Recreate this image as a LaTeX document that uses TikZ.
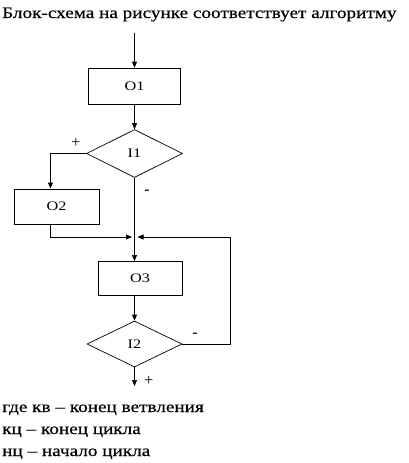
\documentclass[tikz,border=0pt]{standalone}
\usepackage{fontspec}
\setmainfont{Liberation Serif}
\newfontfamily\widefont[FakeStretch=1.2,FakeBold=0.4]{Liberation Serif}
\newfontfamily\lblfont[FakeStretch=1.25]{Liberation Serif}
\usetikzlibrary{shapes.geometric,arrows.meta,calc}
\begin{document}
\begin{tikzpicture}[x=1pt,y=-1pt,
  line/.style={draw=black,line width=0.7pt},
  arr/.style={line,-{Triangle[length=6pt,width=5pt]}},
  blk/.style={draw=black,line width=0.7pt,rectangle,inner sep=0pt,font=\lblfont\fontsize{13}{14}\selectfont},
  dec/.style={draw=black,line width=0.7pt,diamond,inner sep=0pt,font=\lblfont\fontsize{13}{14}\selectfont},
  sign/.style={font=\fontsize{16}{16}\selectfont,inner sep=0pt},
  txt/.style={font=\widefont\fontsize{16}{18}\selectfont,inner sep=0pt,anchor=base west}]
\useasboundingbox (0,0) rectangle (408,463);
\fill[white] (0,0) rectangle (408,463);

\node[txt] (title) at (2,18) {Блок-схема на рисунке соответствует алгоритму};

\node[blk,minimum width=92pt,minimum height=36pt] (O1) at (134.5,86) {O1};
\node[dec,minimum width=96pt,minimum height=48pt] (I1) at (134.5,153.5) {I1};
\node[blk,minimum width=85pt,minimum height=35pt] (O2) at (56.5,206.5) {O2};
\node[blk,minimum width=84pt,minimum height=34pt] (O3) at (140,278) {O3};
\node[dec,minimum width=95pt,minimum height=46pt] (I2) at (134.5,344) {I2};

\coordinate (start) at (134.5,33);
\coordinate (o2top) at (50.5,188.5);
\coordinate (o2bot) at (50.5,224);
\coordinate (jn) at (134.5,237);
\coordinate (jl) at (132,237);
\coordinate (jr) at (137.5,237);
\coordinate (o3top) at (134.5,261);
\coordinate (o3bot) at (134.5,295);
\coordinate (rloop) at (230,237);
\coordinate (endp) at (134.5,386);

\draw[arr] (start) -- (O1.north);
\draw[arr] (O1.south) -- (I1.north);
\draw[arr] (I1.west) -| (o2top);
\draw[line] (I1.south) -- (jn);
\draw[arr] (jn) -- (o3top);
\draw[arr] (o2bot) |- (jl);
\draw[arr] (I2.east) -| (rloop) -- (jr);
\draw[arr] (o3bot) -- (I2.north);
\draw[arr] (I2.south) -- (endp);

\node[sign] (p1) at (76,143) {+};
\node[sign] (m1) at (147,192) {-};
\node[sign] (m2) at (195,335) {-};
\node[sign] (p2) at (149,381) {+};

\node[txt] (l1) at (2,412) {где кв – конец ветвления};
\node[txt] (l2) at (2,434) {кц – конец цикла};
\node[txt] (l3) at (2,456) {нц – начало цикла};
\end{tikzpicture}
\end{document}
